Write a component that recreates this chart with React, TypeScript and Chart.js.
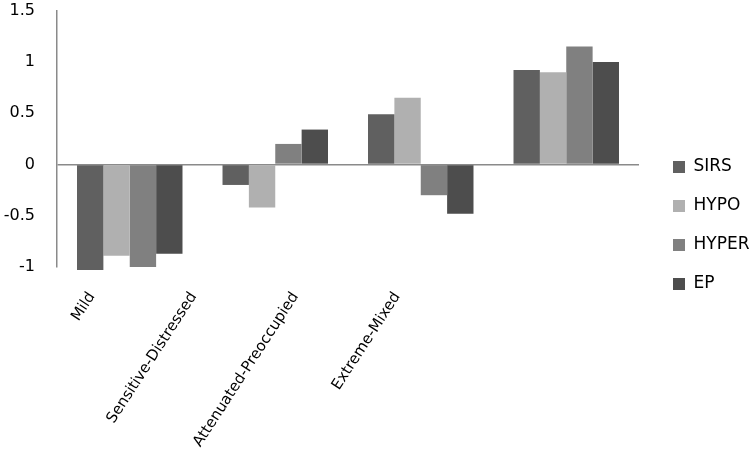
import React, { useEffect, useRef } from "react";
import { Chart, registerables } from "chart.js";

Chart.register(...registerables);

const categories = ["Mild", "Sensitive-Distressed", "Attenuated-Preoccupied", "Extreme-Mixed"];
const seriesNames = ["SIRS", "HYPO", "HYPER", "EP"];
const sirs = [-1.03, -0.2, 0.49, 0.92];
const hypo = [-0.89, -0.42, 0.65, 0.9];
const hyper = [-1.0, 0.2, -0.3, 1.15];
const ep = [-0.87, 0.34, -0.48, 1.0];
const colors = ["#606060", "#b0b0b0", "#808080", "#4d4d4d"];
const yTicks = [-1, -0.5, 0, 0.5, 1, 1.5];

const FONT = "'DejaVu Sans', sans-serif";

export default function App() {
  const ref = useRef<HTMLCanvasElement | null>(null);

  useEffect(() => {
    document.body.style.margin = "0";
    const canvas = ref.current;
    if (!canvas) return;
    const values = [sirs, hypo, hyper, ep];
    const chart = new Chart(canvas, {
      type: "bar",
      data: {
        labels: categories,
        datasets: seriesNames.map((name, i) => ({
          label: name,
          data: values[i],
          backgroundColor: colors[i],
          borderWidth: 0,
          categoryPercentage: 0.725,
          barPercentage: 1,
          clip: false,
        })),
      },
      options: {
        responsive: false,
        animation: false,
        layout: { padding: 0 },
        plugins: {
          tooltip: { enabled: false },
          legend: {
            position: "right",
            align: "center",
            maxWidth: 99,
            labels: {
              boxWidth: 12,
              boxHeight: 12,
              padding: 22,
              color: "#000",
              font: { family: FONT, size: 17 },
            },
          },
        },
        scales: {
          x: { display: false },
          xl: {
            type: "linear",
            position: "bottom",
            offset: false,
            bounds: "data",
            min: -0.344,
            max: 5.376,
            grid: { display: false, drawTicks: false, offset: false },
            border: { display: false },
            afterBuildTicks: (s: any) => {
              s.ticks = categories.map((_, i) => ({ value: i }));
            },
            afterFit: (s: any) => {
              s.height = 184;
            },
            ticks: {
              autoSkip: false,
              minRotation: 57,
              maxRotation: 57,
              padding: 22,
              color: "#000",
              font: { family: FONT, size: 15 },
              callback: (v: any) => categories[v] ?? "",
            },
          },
          y: {
            min: -1,
            max: 1.5,
            afterBuildTicks: (s: any) => {
              s.ticks = yTicks.map((v) => ({ value: v }));
            },
            afterFit: (s: any) => {
              s.width = 57;
            },
            grid: {
              drawTicks: true,
              tickLength: 21,
              tickColor: "rgba(0,0,0,0)",
              color: (ctx: any) => (ctx.tick && ctx.tick.value === 0 ? "#8a8a8a" : "rgba(0,0,0,0)"),
              lineWidth: 1.5,
            },
            border: { color: "#8a8a8a", width: 1.5 },
            ticks: {
              padding: 1,
              color: "#000",
              font: { family: FONT, size: 16 },
              callback: (v: any) => String(v),
            },
          },
          y2: {
            position: "right",
            display: true,
            grid: { display: false, drawTicks: false },
            border: { display: false },
            ticks: { display: false },
            afterFit: (s: any) => {
              s.width = 12;
            },
          },
        },
      } as any,
    });
    return () => chart.destroy();
  }, []);

  return (
    <div style={{ width: 750, height: 451 }}>
      <canvas ref={ref} width={750} height={451} />
    </div>
  );
}
